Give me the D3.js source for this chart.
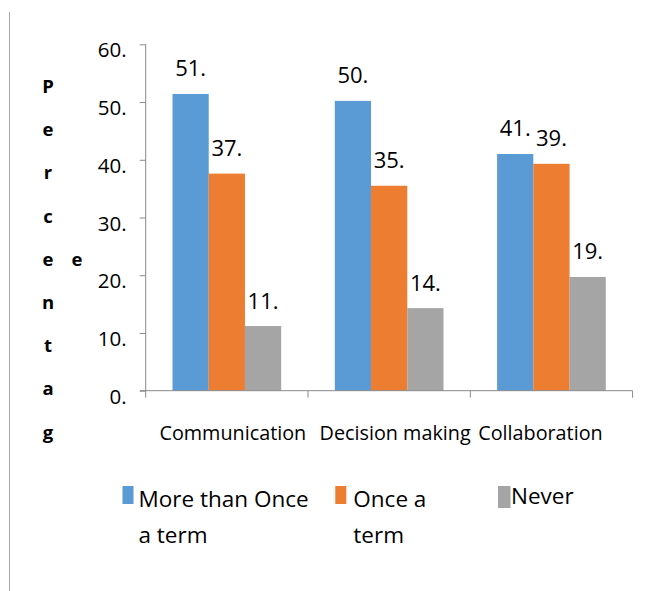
<!DOCTYPE html>
<html>
<head>
<meta charset="utf-8">
<script src="https://cdn.jsdelivr.net/npm/d3@7"></script>
<style>
  html, body { margin: 0; padding: 0; background: #fff; }
  svg { display: block; font-family: "Open Sans", sans-serif; }
</style>
</head>
<body>
<svg id="chart" width="651" height="591"></svg>
<script>
// ---- data ----
const categories = ["Communication", "Decision making", "Collaboration"];
const series = ["More than Once a term", "Once a term", "Never"];
const moreThanOnce = [51.4, 50.2, 41.0];
const onceATerm = [37.6, 35.5, 39.3];
const never = [11.2, 14.3, 19.7];
const valueLabels = [["51.", "50.", "41."], ["37.", "35.", "39."], ["11.", "14.", "19."]];
const yTicks = [0, 10, 20, 30, 40, 50, 60];
const legendLines = [["More than Once", "a term"], ["Once a", "term"], ["Never"]];
const yTitleLetters = ["P", "e", "r", "c", "e", "n", "t", "a", "g"];
const colors = ["#5B9BD5", "#ED7D31", "#A5A5A5"];

const values = [moreThanOnce, onceATerm, never];

const svg = d3.select("#chart");
const axisColor = "#898989";

// left frame line
svg.append("line").attr("x1", 9.5).attr("x2", 9.5).attr("y1", 12).attr("y2", 591)
  .attr("stroke", "#a6a6a6").attr("stroke-width", 1);

const x0 = d3.scaleBand().domain(categories).range([145.7, 632.6]).padding(0);
const x1 = d3.scaleBand().domain(series).range([0, x0.bandwidth()]).paddingInner(0).paddingOuter(0.74);
const y = d3.scaleLinear().domain([0, 60]).range([390.7, 44.3]);

// bars
series.forEach((s, si) => {
  svg.append("g").selectAll("rect").data(categories).join("rect")
    .attr("x", c => x0(c) + x1(s))
    .attr("y", (c, ci) => y(values[si][ci]))
    .attr("width", x1.bandwidth())
    .attr("height", (c, ci) => y(0) - y(values[si][ci]))
    .attr("fill", colors[si]);
  svg.append("g").selectAll("text").data(categories).join("text")
    .attr("x", c => x0(c) + x1(s) + x1.bandwidth() / 2)
    .attr("y", (c, ci) => y(values[si][ci]) - 17.5)
    .attr("text-anchor", "middle")
    .attr("font-size", 22)
    .attr("fill", "#000")
    .text((c, ci) => valueLabels[si][ci]);
});

// y axis
const yAxis = svg.append("g").attr("transform", "translate(145.7,0)")
  .call(d3.axisLeft(y).tickValues(yTicks).tickSize(6).tickPadding(13).tickFormat(d => d + "."));
yAxis.select(".domain").attr("stroke", axisColor).attr("d", "M0,44.3V390.7");
yAxis.selectAll(".tick line").attr("stroke", axisColor);
yAxis.selectAll(".tick text").attr("dy", 12.5).attr("font-size", 20.5)
  .attr("font-family", "Open Sans, sans-serif").attr("fill", "#000");

// x axis
const xAxis = svg.append("g").attr("transform", "translate(0,390.7)");
xAxis.append("line").attr("x1", 140).attr("x2", 632.6).attr("y1", 0).attr("y2", 0).attr("stroke", axisColor);
const bounds = categories.map(c => x0(c)).concat([x0(categories[categories.length - 1]) + x0.bandwidth()]);
xAxis.selectAll("line.tk").data(bounds).join("line").attr("class", "tk")
  .attr("x1", d => d).attr("x2", d => d).attr("y1", 0).attr("y2", 7).attr("stroke", axisColor);
xAxis.selectAll("text").data(categories).join("text")
  .attr("x", c => x0(c) + x0.bandwidth() / 2 + (c === "Collaboration" ? -11 : 6))
  .attr("y", 49.5)
  .attr("text-anchor", "middle")
  .attr("font-size", 19.8)
  .attr("fill", "#000")
  .text(c => c);

// y title: stacked letters
svg.append("g").selectAll("text").data(yTitleLetters).join("text")
  .attr("x", 48).attr("y", (d, i) => 93 + i * 43.2)
  .attr("text-anchor", "middle").attr("font-weight", "bold").attr("font-size", 18.5)
  .attr("fill", "#000").text(d => d);
svg.append("text").attr("x", 77).attr("y", 265.5).attr("text-anchor", "middle")
  .attr("font-weight", "bold").attr("font-size", 18.5).attr("fill", "#000").text("e");

// legend
const legendX = [122.5, 335.3, 498];
const legend = svg.append("g");
series.forEach((s, i) => {
  const g = legend.append("g").attr("transform", `translate(${legendX[i]},0)`);
  g.append("rect").attr("x", 0).attr("y", 486).attr("width", i === 2 ? 12.5 : 11)
    .attr("height", i === 2 ? 22 : 18).attr("fill", colors[i]);
  g.selectAll("text").data(legendLines[i]).join("text")
    .attr("x", i === 0 ? 16 : (i === 1 ? 18 : 13))
    .attr("y", (d, j) => (i === 2 ? 504 : 506.5) + j * 36.8)
    .attr("font-size", 22.5).attr("fill", "#000")
    .text(d => d);
});
</script>
</body>
</html>
